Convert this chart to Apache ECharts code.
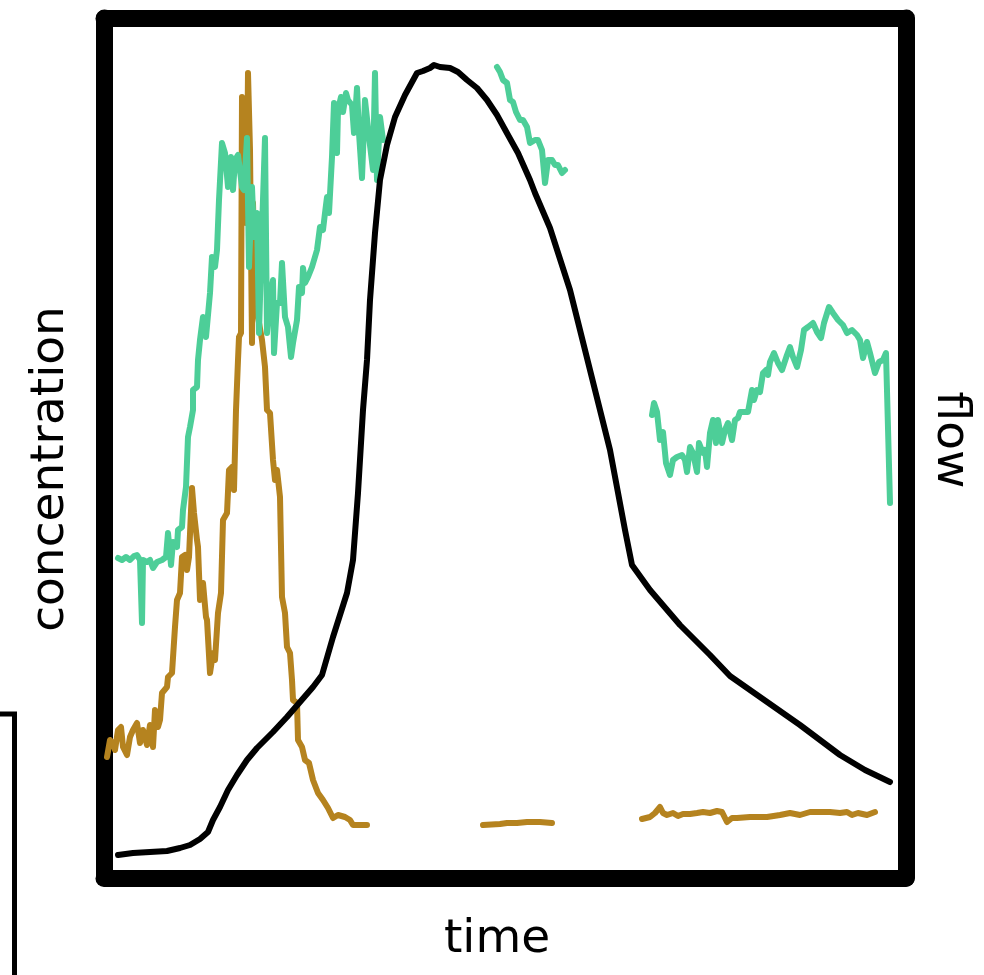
<!DOCTYPE html>
<html>
<head>
<meta charset="utf-8">
<script src="https://cdn.jsdelivr.net/npm/echarts@6/dist/echarts.min.js"></script>
<style>
html,body{margin:0;padding:0;background:#fff;}
#chart{width:984px;height:975px;}
</style>
</head>
<body>
<div id="chart"></div>
<script>
// time (arbitrary units), concentration (arbitrary units), flow (arbitrary units)
const greenSeg1 = [[1.4,32.0],[1.8,31.8],[2.2,32.1],[2.6,31.8],[3.0,32.2],[3.3,32.3],[3.6,31.8],[3.8,25.5],[3.9,31.8],[4.3,31.6],[4.6,31.8],[4.9,31.0],[5.3,31.6],[5.8,31.8],[6.2,32.1],[6.4,34.5],[6.7,31.3],[6.9,33.6],[7.3,33.1],[7.4,34.8],[7.8,35.1],[7.9,36.8],[8.2,39.1],[8.4,44.1],[8.6,45.1],[8.9,46.8],[8.9,48.8],[9.3,49.1],[9.4,51.8],[9.6,53.8],[9.9,56.1],[10.2,54.1],[10.6,58.5],[10.8,62.1],[11.1,61.1],[11.3,62.8],[11.5,67.8],[11.8,73.5],[12.1,72.5],[12.4,69.1],[12.7,72.1],[12.9,68.8],[13.1,71.8],[13.4,72.3],[13.8,69.1],[14.0,68.8],[14.3,74.0],[14.5,61.1],[14.8,69.1],[15.0,64.1],[15.3,66.5],[15.5,54.5],[15.8,64.8],[16.1,74.0],[16.3,54.5],[16.6,58.1],[16.9,59.8],[17.0,52.5],[17.3,57.5],[17.6,57.5],[17.8,61.5],[18.1,56.1],[18.4,55.1],[18.7,52.1],[18.9,53.5],[19.3,55.8],[19.5,59.1],[19.8,58.5],[19.9,61.0],[20.1,59.5],[20.4,60.1],[20.8,61.1],[21.3,62.8],[21.6,65.1],[21.9,64.8],[22.1,66.5],[22.3,68.1],[22.5,66.5],[22.8,72.1],[23.0,77.5],[23.3,72.5],[23.4,76.8],[23.7,78.1],[23.9,76.6],[24.2,78.5],[24.4,77.8],[24.8,77.3],[25.0,74.5],[25.3,79.0],[25.5,74.5],[25.8,70.0],[26.1,77.8],[26.5,74.1],[26.9,70.8],[27.1,80.5],[27.3,69.8],[27.6,76.1],[27.9,73.8]];
const greenSeg2 = [[39.3,81.1],[39.6,80.6],[39.9,79.8],[40.3,79.5],[40.6,77.8],[40.9,77.6],[41.2,76.6],[41.6,75.8],[41.9,75.8],[42.3,75.1],[42.6,73.5],[43.1,73.8],[43.4,73.8],[43.8,72.8],[44.1,69.5],[44.4,71.8],[44.8,71.8],[45.1,71.3],[45.4,71.3],[45.8,70.5],[46.1,70.8]];
const greenSeg3 = [[54.8,46.3],[55.0,47.5],[55.3,46.6],[55.6,43.8],[55.9,44.6],[56.1,44.6],[56.2,41.5],[56.6,40.3],[56.9,41.8],[57.3,42.1],[57.8,42.3],[58.1,41.8],[58.3,40.6],[58.6,43.1],[58.9,42.5],[59.3,40.6],[59.5,43.5],[59.9,42.5],[60.1,42.8],[60.3,41.1],[60.6,44.5],[60.9,45.8],[61.2,43.5],[61.4,45.8],[61.8,43.5],[62.1,44.8],[62.4,45.5],[62.8,43.8],[63.1,45.8],[63.4,46.0],[63.6,46.6],[64.1,46.6],[64.4,46.6],[64.8,48.8],[65.0,47.8],[65.3,48.8],[65.6,48.6],[65.9,50.5],[66.2,50.8],[66.4,50.3],[66.6,51.6],[67.0,52.5],[67.4,51.5],[67.8,50.8],[68.3,52.3],[68.6,53.1],[68.9,52.1],[69.3,51.1],[69.7,52.8],[70.0,54.8],[70.4,55.1],[70.9,55.5],[71.3,54.6],[71.7,54.0],[72.0,55.5],[72.5,57.1],[72.9,56.5],[73.4,55.8],[73.9,55.3],[74.3,54.5],[74.8,54.8],[75.3,54.3],[75.6,53.8],[75.9,52.0],[76.3,53.6],[76.6,52.5],[77.1,50.5],[77.5,51.6],[77.9,51.8],[78.2,52.5],[78.6,37.5]];
const brownSeg1 = [[0.3,12.1],[0.6,13.8],[0.9,13.5],[1.1,12.8],[1.4,14.8],[1.7,15.1],[1.9,13.1],[2.3,12.3],[2.6,14.1],[2.9,14.8],[3.3,15.5],[3.6,13.5],[3.9,14.8],[4.3,13.3],[4.6,15.3],[4.9,13.1],[5.1,16.8],[5.4,15.1],[5.6,15.8],[5.8,18.5],[6.3,19.1],[6.4,20.1],[6.8,20.5],[7.1,25.1],[7.3,27.8],[7.6,28.5],[7.8,32.1],[8.1,32.3],[8.3,30.8],[8.5,32.1],[8.8,39.0],[9.0,36.5],[9.3,33.8],[9.4,33.1],[9.6,27.8],[9.9,29.5],[10.2,26.1],[10.3,25.8],[10.6,20.5],[10.9,22.5],[11.1,21.8],[11.4,26.5],[11.7,28.5],[11.9,35.8],[12.3,36.5],[12.5,40.8],[12.8,41.1],[13.0,38.8],[13.2,46.8],[13.4,51.8],[13.5,54.1],[13.7,54.5],[13.8,78.1],[14.0,78.1],[14.2,65.5],[14.3,70.5],[14.4,80.5],[14.6,72.8],[14.8,53.5],[14.9,67.5],[15.1,59.5],[15.4,56.1],[15.8,53.8],[16.1,51.1],[16.3,46.8],[16.6,46.5],[16.9,41.8],[17.1,39.8],[17.3,40.8],[17.6,38.1],[17.8,28.1],[18.1,26.5],[18.3,23.1],[18.6,22.5],[18.8,19.8],[18.9,17.8],[19.1,18.0],[19.3,17.5],[19.4,13.8],[19.8,13.1],[20.1,11.8],[20.5,11.5],[20.9,9.8],[21.4,8.5],[21.9,7.8],[22.4,7.0],[22.9,6.0],[23.4,6.3],[24.1,6.1],[24.6,5.8],[24.9,5.3],[25.6,5.3],[26.3,5.3]];
const brownSeg2 = [[37.9,5.3],[39.6,5.4],[40.3,5.5],[41.3,5.5],[42.3,5.6],[43.6,5.6],[44.8,5.5]];
const brownSeg3 = [[53.8,5.9],[54.6,6.1],[55.1,6.5],[55.6,7.1],[55.9,6.5],[56.3,6.3],[56.9,6.5],[57.4,6.2],[57.9,6.4],[58.6,6.4],[59.3,6.5],[59.9,6.6],[60.6,6.5],[61.3,6.7],[61.8,6.6],[62.3,5.6],[62.8,6.0],[63.3,6.0],[64.6,6.1],[66.3,6.1],[67.6,6.3],[68.6,6.5],[69.6,6.3],[70.6,6.6],[71.6,6.6],[72.6,6.6],[73.6,6.5],[74.3,6.6],[74.8,6.3],[75.4,6.5],[76.3,6.3],[77.1,6.6]];
const flowSeries = [[1.4,1.15],[2.9,1.25],[4.6,1.3],[6.3,1.35],[7.6,1.5],[8.6,1.65],[9.6,1.95],[10.4,2.3],[10.9,2.9],[11.6,3.55],[12.4,4.4],[13.3,5.15],[14.3,5.9],[15.3,6.5],[16.9,7.3],[18.3,8.05],[19.6,8.8],[20.9,9.55],[21.8,10.15],[22.9,12.05],[24.3,14.25],[24.9,15.9],[25.4,19.25],[25.9,23.4],[26.3,25.9],[26.6,28.9],[27.1,32.25],[27.6,34.9],[28.3,36.65],[29.1,38.05],[30.1,39.15],[31.3,40.25],[31.9,40.35],[32.6,40.5],[33.0,40.65],[33.6,40.55],[34.6,40.5],[35.4,40.3],[36.3,39.9],[37.3,39.5],[38.3,38.9],[39.3,38.15],[40.4,37.15],[41.4,36.25],[42.6,34.9],[43.1,34.25],[44.6,32.5],[46.6,29.4],[48.6,25.4],[50.6,21.4],[52.1,17.4],[52.8,15.65],[54.6,14.4],[57.6,12.65],[60.6,11.15],[62.6,10.1],[65.6,9.05],[69.6,7.65],[73.6,6.15],[76.1,5.4],[78.6,4.8]];

const axisLabels = { x: 'time', yLeft: 'concentration', yRight: 'flow' };

const GREEN = '#4dce98';
const BROWN = '#b5831f';
const FONT = 'DejaVu Sans';

const chart = echarts.init(document.getElementById('chart'), null, {renderer: 'canvas'});
const frameLine = { show: true, onZero: false, lineStyle: { color: '#000', width: 17, cap: 'round' } };
function nameStyle(pad) { return { fontFamily: FONT, fontSize: 47, color: '#000', padding: pad }; }

function lineSeries(data, color, yIdx, z) {
  return {
    type: 'line', data: data, yAxisIndex: yIdx, xAxisIndex: 0,
    showSymbol: false, symbol: 'none', z: z, silent: true,
    lineStyle: { color: color, width: 6, cap: 'round', join: 'round' }
  };
}

chart.setOption({
  animation: false,
  backgroundColor: '#fff',
  grid: { left: 104, top: 18, width: 802, height: 860, containLabel: false },
  xAxis: [
    { type: 'value', min: 0, max: 80.2, position: 'bottom',
      name: axisLabels.x, nameLocation: 'middle', nameGap: 38, nameTextStyle: nameStyle([0, 16, 0, 0]),
      axisLine: frameLine, axisTick: { show: false }, axisLabel: { show: false }, splitLine: { show: false } },
    { type: 'value', min: 0, max: 80.2, position: 'top',
      axisLine: frameLine, axisTick: { show: false }, axisLabel: { show: false }, splitLine: { show: false } }
  ],
  yAxis: [
    { type: 'value', min: 0, max: 86, position: 'left',
      name: axisLabels.yLeft, nameLocation: 'middle', nameGap: 30, nameRotate: 90, nameTextStyle: nameStyle([0, 42, 0, 0]),
      axisLine: frameLine, axisTick: { show: false }, axisLabel: { show: false }, splitLine: { show: false } },
    { type: 'value', min: 0, max: 43, position: 'right',
      name: axisLabels.yRight, nameLocation: 'middle', nameGap: 21, nameRotate: -90, nameTextStyle: nameStyle([0, 16, 0, 0]),
      axisLine: frameLine, axisTick: { show: false }, axisLabel: { show: false }, splitLine: { show: false } }
  ],
  graphic: [
    { type: 'polyline', silent: true, shape: { points: [[0, 714], [14.5, 714], [14.5, 975]] },
      style: { stroke: '#000', lineWidth: 5, fill: null } }
  ],
  series: [
    lineSeries(brownSeg1, BROWN, 0, 2),
    lineSeries(brownSeg2, BROWN, 0, 2),
    lineSeries(brownSeg3, BROWN, 0, 2),
    lineSeries(greenSeg1, GREEN, 0, 3),
    lineSeries(greenSeg2, GREEN, 0, 3),
    lineSeries(greenSeg3, GREEN, 0, 3),
    lineSeries(flowSeries, '#000', 1, 4)
  ]
});
</script>
</body>
</html>
